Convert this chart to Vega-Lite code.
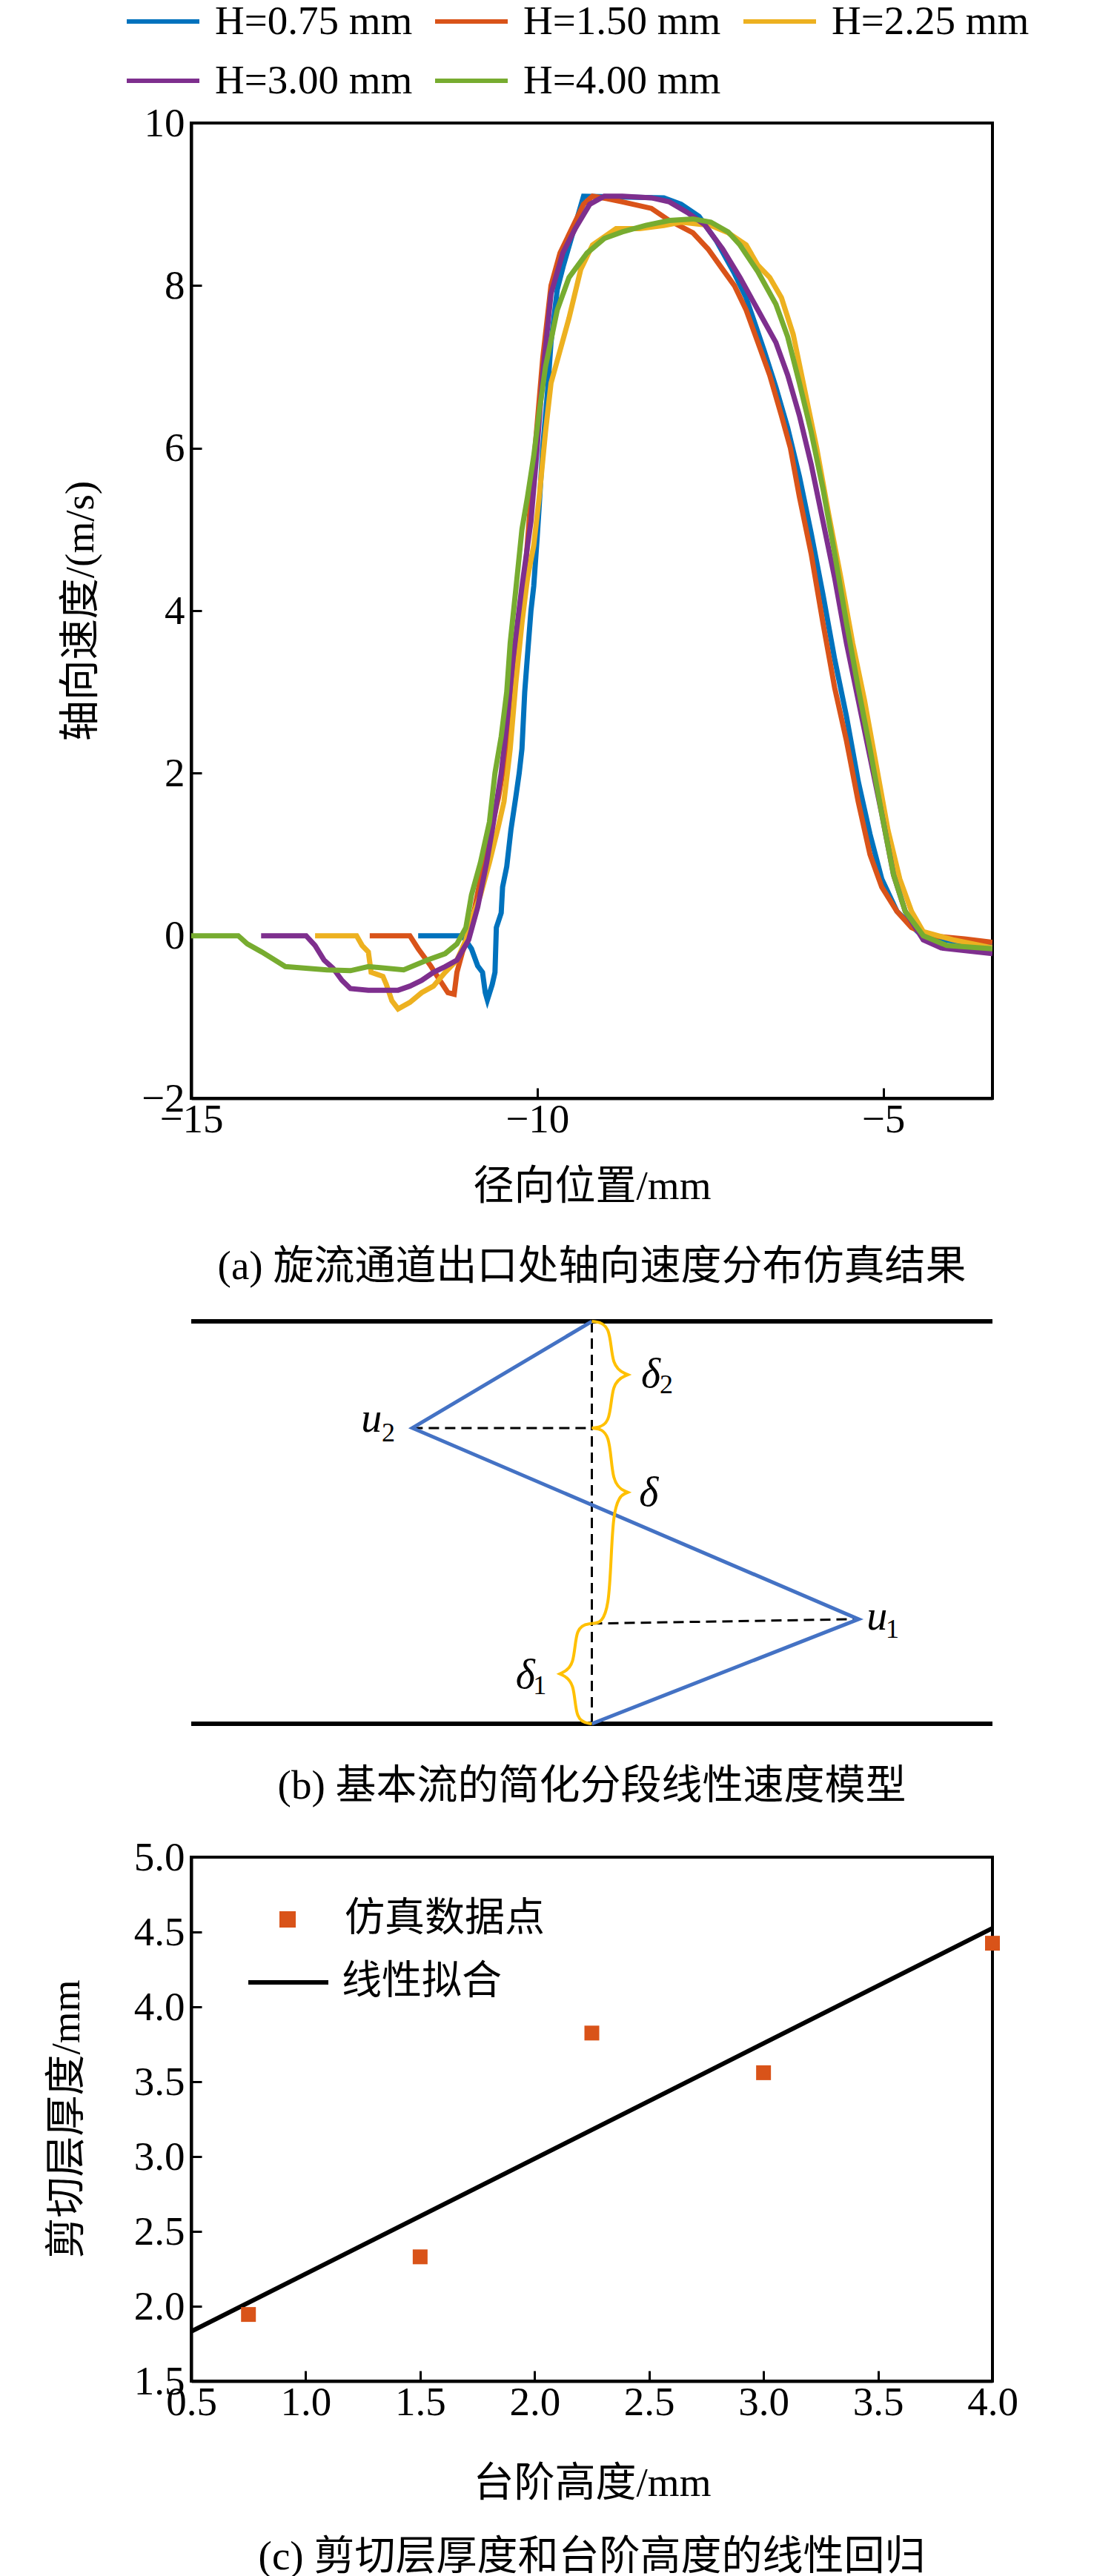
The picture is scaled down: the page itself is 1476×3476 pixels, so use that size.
{
  "$schema": "https://vega.github.io/schema/vega-lite/v6.json",
  "background": "white",
  "padding": {"left": 60, "top": -25, "right": 10, "bottom": 10},
  "autosize": {"type": "pad"},
  "bounds": "flush",
  "spacing": 180,
  "resolve": {
    "scale": {"color": "independent", "shape": "independent"},
    "legend": {"color": "independent", "shape": "independent"}
  },
  "config": {
    "font": "Liberation Serif, Noto Sans CJK SC",
    "view": {"stroke": "black", "strokeWidth": 4},
    "axis": {
      "labelFont": "Liberation Serif, Noto Sans CJK SC",
      "titleFont": "Liberation Serif, Noto Sans CJK SC",
      "labelFontSize": 55,
      "titleFontSize": 55,
      "titleFontWeight": "normal",
      "labelColor": "black",
      "titleColor": "black",
      "domainColor": "black",
      "domainWidth": 4,
      "tickColor": "black",
      "tickWidth": 3,
      "tickSize": -14,
      "labelPadding": 16,
      "grid": false,
      "labelFlush": false,
      "labelOverlap": false
    },
    "axisY": {"labelPadding": 23},
    "legend": {
      "labelColor": "black",
      "labelFont": "Liberation Serif, Noto Sans CJK SC",
      "padding": 0,
      "symbolOpacity": 1,
      "labelLimit": 0
    },
    "title": {
      "font": "Liberation Serif, Noto Sans CJK SC",
      "fontSize": 55,
      "fontWeight": "normal",
      "color": "black",
      "orient": "bottom",
      "anchor": "middle"
    }
  },
  "vconcat": [
    {
      "width": 1081,
      "height": 1316,
      "title": {"text": "(a) 旋流通道出口处轴向速度分布仿真结果", "orient": "bottom", "offset": 55},
      "data": {"values": [
        {"H": "H=0.75 mm", "r": -11.72, "u": 0}, {"H": "H=0.75 mm", "r": -11.08, "u": 0}, {"H": "H=0.75 mm", "r": -10.95, "u": -0.16}, {"H": "H=0.75 mm", "r": -10.86, "u": -0.37}, {"H": "H=0.75 mm", "r": -10.79, "u": -0.45}, {"H": "H=0.75 mm", "r": -10.75, "u": -0.7}, {"H": "H=0.75 mm", "r": -10.72, "u": -0.79}, {"H": "H=0.75 mm", "r": -10.65, "u": -0.6}, {"H": "H=0.75 mm", "r": -10.61, "u": -0.45}, {"H": "H=0.75 mm", "r": -10.59, "u": 0.1}, {"H": "H=0.75 mm", "r": -10.52, "u": 0.28}, {"H": "H=0.75 mm", "r": -10.5, "u": 0.6}, {"H": "H=0.75 mm", "r": -10.44, "u": 0.85}, {"H": "H=0.75 mm", "r": -10.38, "u": 1.3}, {"H": "H=0.75 mm", "r": -10.31, "u": 1.7}, {"H": "H=0.75 mm", "r": -10.26, "u": 2.0}, {"H": "H=0.75 mm", "r": -10.22, "u": 2.3}, {"H": "H=0.75 mm", "r": -10.18, "u": 3.0}, {"H": "H=0.75 mm", "r": -10.14, "u": 3.45}, {"H": "H=0.75 mm", "r": -10.09, "u": 4.0}, {"H": "H=0.75 mm", "r": -10.05, "u": 4.3}, {"H": "H=0.75 mm", "r": -10.0, "u": 4.9}, {"H": "H=0.75 mm", "r": -9.97, "u": 5.3}, {"H": "H=0.75 mm", "r": -9.92, "u": 6.0}, {"H": "H=0.75 mm", "r": -9.85, "u": 6.7}, {"H": "H=0.75 mm", "r": -9.8, "u": 7.3}, {"H": "H=0.75 mm", "r": -9.71, "u": 7.95}, {"H": "H=0.75 mm", "r": -9.62, "u": 8.25}, {"H": "H=0.75 mm", "r": -9.5, "u": 8.6}, {"H": "H=0.75 mm", "r": -9.33, "u": 9.1}, {"H": "H=0.75 mm", "r": -8.17, "u": 9.08}, {"H": "H=0.75 mm", "r": -7.92, "u": 9.0}, {"H": "H=0.75 mm", "r": -7.66, "u": 8.85}, {"H": "H=0.75 mm", "r": -7.41, "u": 8.55}, {"H": "H=0.75 mm", "r": -7.15, "u": 8.15}, {"H": "H=0.75 mm", "r": -6.98, "u": 7.85}, {"H": "H=0.75 mm", "r": -6.72, "u": 7.2}, {"H": "H=0.75 mm", "r": -6.55, "u": 6.75}, {"H": "H=0.75 mm", "r": -6.38, "u": 6.25}, {"H": "H=0.75 mm", "r": -6.21, "u": 5.65}, {"H": "H=0.75 mm", "r": -6.04, "u": 4.95}, {"H": "H=0.75 mm", "r": -5.87, "u": 4.2}, {"H": "H=0.75 mm", "r": -5.7, "u": 3.4}, {"H": "H=0.75 mm", "r": -5.53, "u": 2.7}, {"H": "H=0.75 mm", "r": -5.36, "u": 1.9}, {"H": "H=0.75 mm", "r": -5.19, "u": 1.25}, {"H": "H=0.75 mm", "r": -5.02, "u": 0.7}, {"H": "H=0.75 mm", "r": -4.8, "u": 0.3}, {"H": "H=0.75 mm", "r": -4.5, "u": 0.05}, {"H": "H=0.75 mm", "r": -4.25, "u": -0.04}, {"H": "H=0.75 mm", "r": -3.82, "u": -0.08}, {"H": "H=0.75 mm", "r": -3.42, "u": -0.12},
        {"H": "H=1.50 mm", "r": -12.42, "u": 0}, {"H": "H=1.50 mm", "r": -11.84, "u": 0}, {"H": "H=1.50 mm", "r": -11.72, "u": -0.16}, {"H": "H=1.50 mm", "r": -11.54, "u": -0.37}, {"H": "H=1.50 mm", "r": -11.42, "u": -0.53}, {"H": "H=1.50 mm", "r": -11.29, "u": -0.7}, {"H": "H=1.50 mm", "r": -11.2, "u": -0.72}, {"H": "H=1.50 mm", "r": -11.16, "u": -0.45}, {"H": "H=1.50 mm", "r": -11.08, "u": -0.2}, {"H": "H=1.50 mm", "r": -10.99, "u": 0}, {"H": "H=1.50 mm", "r": -10.9, "u": 0.35}, {"H": "H=1.50 mm", "r": -10.82, "u": 0.7}, {"H": "H=1.50 mm", "r": -10.69, "u": 1.2}, {"H": "H=1.50 mm", "r": -10.56, "u": 1.7}, {"H": "H=1.50 mm", "r": -10.44, "u": 2.3}, {"H": "H=1.50 mm", "r": -10.35, "u": 2.9}, {"H": "H=1.50 mm", "r": -10.26, "u": 3.8}, {"H": "H=1.50 mm", "r": -10.18, "u": 4.4}, {"H": "H=1.50 mm", "r": -10.09, "u": 5.4}, {"H": "H=1.50 mm", "r": -10.01, "u": 6.2}, {"H": "H=1.50 mm", "r": -9.92, "u": 7.1}, {"H": "H=1.50 mm", "r": -9.8, "u": 8.0}, {"H": "H=1.50 mm", "r": -9.67, "u": 8.4}, {"H": "H=1.50 mm", "r": -9.5, "u": 8.7}, {"H": "H=1.50 mm", "r": -9.33, "u": 9.0}, {"H": "H=1.50 mm", "r": -9.2, "u": 9.1}, {"H": "H=1.50 mm", "r": -8.99, "u": 9.07}, {"H": "H=1.50 mm", "r": -8.77, "u": 9.03}, {"H": "H=1.50 mm", "r": -8.35, "u": 8.95}, {"H": "H=1.50 mm", "r": -8.09, "u": 8.8}, {"H": "H=1.50 mm", "r": -7.75, "u": 8.65}, {"H": "H=1.50 mm", "r": -7.53, "u": 8.45}, {"H": "H=1.50 mm", "r": -7.32, "u": 8.2}, {"H": "H=1.50 mm", "r": -7.15, "u": 8.0}, {"H": "H=1.50 mm", "r": -6.98, "u": 7.7}, {"H": "H=1.50 mm", "r": -6.81, "u": 7.3}, {"H": "H=1.50 mm", "r": -6.64, "u": 6.9}, {"H": "H=1.50 mm", "r": -6.47, "u": 6.4}, {"H": "H=1.50 mm", "r": -6.34, "u": 6.0}, {"H": "H=1.50 mm", "r": -6.21, "u": 5.4}, {"H": "H=1.50 mm", "r": -6.04, "u": 4.7}, {"H": "H=1.50 mm", "r": -5.87, "u": 3.85}, {"H": "H=1.50 mm", "r": -5.7, "u": 3.05}, {"H": "H=1.50 mm", "r": -5.53, "u": 2.4}, {"H": "H=1.50 mm", "r": -5.36, "u": 1.65}, {"H": "H=1.50 mm", "r": -5.19, "u": 1.0}, {"H": "H=1.50 mm", "r": -5.02, "u": 0.6}, {"H": "H=1.50 mm", "r": -4.8, "u": 0.3}, {"H": "H=1.50 mm", "r": -4.59, "u": 0.1}, {"H": "H=1.50 mm", "r": -4.33, "u": 0.0}, {"H": "H=1.50 mm", "r": -3.82, "u": -0.04}, {"H": "H=1.50 mm", "r": -3.42, "u": -0.08},
        {"H": "H=2.25 mm", "r": -13.21, "u": 0}, {"H": "H=2.25 mm", "r": -12.61, "u": 0}, {"H": "H=2.25 mm", "r": -12.53, "u": -0.12}, {"H": "H=2.25 mm", "r": -12.44, "u": -0.2}, {"H": "H=2.25 mm", "r": -12.4, "u": -0.45}, {"H": "H=2.25 mm", "r": -12.23, "u": -0.5}, {"H": "H=2.25 mm", "r": -12.18, "u": -0.6}, {"H": "H=2.25 mm", "r": -12.1, "u": -0.8}, {"H": "H=2.25 mm", "r": -12.01, "u": -0.9}, {"H": "H=2.25 mm", "r": -11.84, "u": -0.82}, {"H": "H=2.25 mm", "r": -11.67, "u": -0.7}, {"H": "H=2.25 mm", "r": -11.5, "u": -0.62}, {"H": "H=2.25 mm", "r": -11.33, "u": -0.45}, {"H": "H=2.25 mm", "r": -11.16, "u": -0.3}, {"H": "H=2.25 mm", "r": -11.03, "u": -0.05}, {"H": "H=2.25 mm", "r": -10.95, "u": 0.2}, {"H": "H=2.25 mm", "r": -10.82, "u": 0.5}, {"H": "H=2.25 mm", "r": -10.69, "u": 0.9}, {"H": "H=2.25 mm", "r": -10.56, "u": 1.35}, {"H": "H=2.25 mm", "r": -10.48, "u": 1.65}, {"H": "H=2.25 mm", "r": -10.39, "u": 2.3}, {"H": "H=2.25 mm", "r": -10.31, "u": 3.1}, {"H": "H=2.25 mm", "r": -10.22, "u": 3.85}, {"H": "H=2.25 mm", "r": -10.14, "u": 4.4}, {"H": "H=2.25 mm", "r": -10.05, "u": 4.8}, {"H": "H=2.25 mm", "r": -9.97, "u": 5.4}, {"H": "H=2.25 mm", "r": -9.88, "u": 6.2}, {"H": "H=2.25 mm", "r": -9.8, "u": 6.8}, {"H": "H=2.25 mm", "r": -9.67, "u": 7.2}, {"H": "H=2.25 mm", "r": -9.54, "u": 7.6}, {"H": "H=2.25 mm", "r": -9.37, "u": 8.2}, {"H": "H=2.25 mm", "r": -9.2, "u": 8.5}, {"H": "H=2.25 mm", "r": -8.86, "u": 8.7}, {"H": "H=2.25 mm", "r": -8.52, "u": 8.7}, {"H": "H=2.25 mm", "r": -8.17, "u": 8.74}, {"H": "H=2.25 mm", "r": -7.92, "u": 8.78}, {"H": "H=2.25 mm", "r": -7.49, "u": 8.74}, {"H": "H=2.25 mm", "r": -7.24, "u": 8.65}, {"H": "H=2.25 mm", "r": -6.98, "u": 8.5}, {"H": "H=2.25 mm", "r": -6.81, "u": 8.25}, {"H": "H=2.25 mm", "r": -6.64, "u": 8.1}, {"H": "H=2.25 mm", "r": -6.47, "u": 7.85}, {"H": "H=2.25 mm", "r": -6.3, "u": 7.4}, {"H": "H=2.25 mm", "r": -6.13, "u": 6.7}, {"H": "H=2.25 mm", "r": -5.96, "u": 6.0}, {"H": "H=2.25 mm", "r": -5.79, "u": 5.2}, {"H": "H=2.25 mm", "r": -5.61, "u": 4.4}, {"H": "H=2.25 mm", "r": -5.44, "u": 3.6}, {"H": "H=2.25 mm", "r": -5.27, "u": 2.9}, {"H": "H=2.25 mm", "r": -5.1, "u": 2.1}, {"H": "H=2.25 mm", "r": -4.93, "u": 1.3}, {"H": "H=2.25 mm", "r": -4.76, "u": 0.7}, {"H": "H=2.25 mm", "r": -4.59, "u": 0.3}, {"H": "H=2.25 mm", "r": -4.42, "u": 0.05}, {"H": "H=2.25 mm", "r": -3.99, "u": -0.05}, {"H": "H=2.25 mm", "r": -3.42, "u": -0.15},
        {"H": "H=3.00 mm", "r": -13.99, "u": 0}, {"H": "H=3.00 mm", "r": -13.34, "u": 0}, {"H": "H=3.00 mm", "r": -13.21, "u": -0.12}, {"H": "H=3.00 mm", "r": -13.08, "u": -0.3}, {"H": "H=3.00 mm", "r": -12.95, "u": -0.4}, {"H": "H=3.00 mm", "r": -12.82, "u": -0.55}, {"H": "H=3.00 mm", "r": -12.7, "u": -0.65}, {"H": "H=3.00 mm", "r": -12.44, "u": -0.67}, {"H": "H=3.00 mm", "r": -12.01, "u": -0.67}, {"H": "H=3.00 mm", "r": -11.84, "u": -0.62}, {"H": "H=3.00 mm", "r": -11.67, "u": -0.55}, {"H": "H=3.00 mm", "r": -11.5, "u": -0.45}, {"H": "H=3.00 mm", "r": -11.33, "u": -0.38}, {"H": "H=3.00 mm", "r": -11.16, "u": -0.3}, {"H": "H=3.00 mm", "r": -10.99, "u": -0.05}, {"H": "H=3.00 mm", "r": -10.86, "u": 0.35}, {"H": "H=3.00 mm", "r": -10.73, "u": 0.9}, {"H": "H=3.00 mm", "r": -10.65, "u": 1.3}, {"H": "H=3.00 mm", "r": -10.52, "u": 2.0}, {"H": "H=3.00 mm", "r": -10.44, "u": 2.6}, {"H": "H=3.00 mm", "r": -10.35, "u": 3.4}, {"H": "H=3.00 mm", "r": -10.22, "u": 4.3}, {"H": "H=3.00 mm", "r": -10.09, "u": 5.1}, {"H": "H=3.00 mm", "r": -10.01, "u": 5.9}, {"H": "H=3.00 mm", "r": -9.92, "u": 6.9}, {"H": "H=3.00 mm", "r": -9.8, "u": 7.9}, {"H": "H=3.00 mm", "r": -9.63, "u": 8.4}, {"H": "H=3.00 mm", "r": -9.45, "u": 8.7}, {"H": "H=3.00 mm", "r": -9.24, "u": 9.0}, {"H": "H=3.00 mm", "r": -9.03, "u": 9.1}, {"H": "H=3.00 mm", "r": -8.77, "u": 9.1}, {"H": "H=3.00 mm", "r": -8.35, "u": 9.08}, {"H": "H=3.00 mm", "r": -8.09, "u": 9.03}, {"H": "H=3.00 mm", "r": -7.83, "u": 8.9}, {"H": "H=3.00 mm", "r": -7.58, "u": 8.75}, {"H": "H=3.00 mm", "r": -7.32, "u": 8.45}, {"H": "H=3.00 mm", "r": -7.07, "u": 8.1}, {"H": "H=3.00 mm", "r": -6.81, "u": 7.7}, {"H": "H=3.00 mm", "r": -6.55, "u": 7.3}, {"H": "H=3.00 mm", "r": -6.38, "u": 6.9}, {"H": "H=3.00 mm", "r": -6.21, "u": 6.4}, {"H": "H=3.00 mm", "r": -6.04, "u": 5.8}, {"H": "H=3.00 mm", "r": -5.87, "u": 5.1}, {"H": "H=3.00 mm", "r": -5.7, "u": 4.4}, {"H": "H=3.00 mm", "r": -5.53, "u": 3.6}, {"H": "H=3.00 mm", "r": -5.36, "u": 2.9}, {"H": "H=3.00 mm", "r": -5.19, "u": 2.2}, {"H": "H=3.00 mm", "r": -5.02, "u": 1.5}, {"H": "H=3.00 mm", "r": -4.85, "u": 0.75}, {"H": "H=3.00 mm", "r": -4.68, "u": 0.3}, {"H": "H=3.00 mm", "r": -4.42, "u": -0.05}, {"H": "H=3.00 mm", "r": -4.16, "u": -0.15}, {"H": "H=3.00 mm", "r": -3.42, "u": -0.22},
        {"H": "H=4.00 mm", "r": -15, "u": 0}, {"H": "H=4.00 mm", "r": -14.32, "u": 0}, {"H": "H=4.00 mm", "r": -14.19, "u": -0.1}, {"H": "H=4.00 mm", "r": -13.98, "u": -0.2}, {"H": "H=4.00 mm", "r": -13.64, "u": -0.38}, {"H": "H=4.00 mm", "r": -13.04, "u": -0.42}, {"H": "H=4.00 mm", "r": -12.7, "u": -0.43}, {"H": "H=4.00 mm", "r": -12.44, "u": -0.38}, {"H": "H=4.00 mm", "r": -11.93, "u": -0.42}, {"H": "H=4.00 mm", "r": -11.59, "u": -0.3}, {"H": "H=4.00 mm", "r": -11.33, "u": -0.22}, {"H": "H=4.00 mm", "r": -11.16, "u": -0.1}, {"H": "H=4.00 mm", "r": -11.03, "u": 0.1}, {"H": "H=4.00 mm", "r": -10.95, "u": 0.5}, {"H": "H=4.00 mm", "r": -10.82, "u": 0.9}, {"H": "H=4.00 mm", "r": -10.69, "u": 1.4}, {"H": "H=4.00 mm", "r": -10.61, "u": 2.0}, {"H": "H=4.00 mm", "r": -10.52, "u": 2.45}, {"H": "H=4.00 mm", "r": -10.44, "u": 3.0}, {"H": "H=4.00 mm", "r": -10.39, "u": 3.6}, {"H": "H=4.00 mm", "r": -10.31, "u": 4.25}, {"H": "H=4.00 mm", "r": -10.22, "u": 5.0}, {"H": "H=4.00 mm", "r": -10.14, "u": 5.4}, {"H": "H=4.00 mm", "r": -10.05, "u": 5.9}, {"H": "H=4.00 mm", "r": -9.97, "u": 6.45}, {"H": "H=4.00 mm", "r": -9.88, "u": 7.0}, {"H": "H=4.00 mm", "r": -9.71, "u": 7.7}, {"H": "H=4.00 mm", "r": -9.54, "u": 8.1}, {"H": "H=4.00 mm", "r": -9.28, "u": 8.4}, {"H": "H=4.00 mm", "r": -9.03, "u": 8.58}, {"H": "H=4.00 mm", "r": -8.77, "u": 8.66}, {"H": "H=4.00 mm", "r": -8.43, "u": 8.74}, {"H": "H=4.00 mm", "r": -8.09, "u": 8.8}, {"H": "H=4.00 mm", "r": -7.75, "u": 8.82}, {"H": "H=4.00 mm", "r": -7.49, "u": 8.78}, {"H": "H=4.00 mm", "r": -7.24, "u": 8.66}, {"H": "H=4.00 mm", "r": -7.07, "u": 8.5}, {"H": "H=4.00 mm", "r": -6.81, "u": 8.17}, {"H": "H=4.00 mm", "r": -6.55, "u": 7.77}, {"H": "H=4.00 mm", "r": -6.38, "u": 7.37}, {"H": "H=4.00 mm", "r": -6.21, "u": 6.8}, {"H": "H=4.00 mm", "r": -6.04, "u": 6.2}, {"H": "H=4.00 mm", "r": -5.87, "u": 5.5}, {"H": "H=4.00 mm", "r": -5.7, "u": 4.7}, {"H": "H=4.00 mm", "r": -5.53, "u": 3.85}, {"H": "H=4.00 mm", "r": -5.36, "u": 3.05}, {"H": "H=4.00 mm", "r": -5.19, "u": 2.3}, {"H": "H=4.00 mm", "r": -5.02, "u": 1.5}, {"H": "H=4.00 mm", "r": -4.85, "u": 0.75}, {"H": "H=4.00 mm", "r": -4.68, "u": 0.3}, {"H": "H=4.00 mm", "r": -4.42, "u": 0.0}, {"H": "H=4.00 mm", "r": -4.08, "u": -0.12}, {"H": "H=4.00 mm", "r": -3.42, "u": -0.16}
      ]},
      "mark": {"type": "line", "strokeWidth": 7, "clip": true},
      "encoding": {
        "x": {"field": "r", "type": "quantitative", "scale": {"domain": [-15, -3.42], "nice": false, "zero": false},
              "axis": {"values": [-15, -10, -5], "title": "径向位置/mm", "titleY": 118, "titleBaseline": "middle"}},
        "y": {"field": "u", "type": "quantitative", "scale": {"domain": [-2, 10], "nice": false, "zero": false},
              "axis": {"values": [-2, 0, 2, 4, 6, 8, 10], "title": "轴向速度/(m/s)", "titleX": -150, "titleY": 658, "titleBaseline": "middle", "titleAngle": -90}},
        "color": {"field": "H", "type": "nominal",
                  "scale": {"domain": ["H=0.75 mm", "H=1.50 mm", "H=2.25 mm", "H=3.00 mm", "H=4.00 mm"], "range": ["#0072BD", "#D95319", "#EDB120", "#7E2F8E", "#77AC30"]},
                  "legend": {"orient": "none", "legendX": -90, "legendY": -189, "direction": "horizontal", "columns": 3, "title": null,
                             "symbolType": "stroke", "symbolSize": 9604, "symbolStrokeWidth": 6, "labelFontSize": 55, "labelOffset": 18,
                             "columnPadding": 18, "rowPadding": -70, "labelFont": "Liberation Serif", "labelLimit": 0}}
      }
    },
    {
      "width": 1081,
      "height": 664,
      "view": {"stroke": null},
      "title": {"text": "(b) 基本流的简化分段线性速度模型", "orient": "bottom", "offset": 48},
      "layer": [
        {
          "data": {"values": [{"x0": 0, "x1": 100, "y": 100}, {"x0": 0, "x1": 100, "y": 0}]},
          "mark": {"type": "rule", "color": "black", "strokeWidth": 6},
          "encoding": {
            "x": {"field": "x0", "type": "quantitative", "scale": {"domain": [0, 100], "nice": false, "zero": false}, "axis": null},
            "x2": {"field": "x1"},
            "y": {"field": "y", "type": "quantitative", "scale": {"domain": [0, 122.3], "nice": false, "zero": false}, "axis": null}
          }
        },
        {
          "data": {"values": [{"x": 50, "y": 0, "xe": 50, "ye": 100}, {"x": 27.6, "y": 73.5, "xe": 50, "ye": 73.5}, {"x": 50, "y": 24.9, "xe": 83.3, "ye": 26}]},
          "mark": {"type": "rule", "color": "black", "strokeWidth": 3, "strokeDash": [14, 8]},
          "encoding": {
            "x": {"field": "x", "type": "quantitative", "axis": null},
            "x2": {"field": "xe"},
            "y": {"field": "y", "type": "quantitative", "axis": null},
            "y2": {"field": "ye"}
          }
        },
        {
          "data": {"values": [{"o": 1, "x": 50, "y": 100}, {"o": 2, "x": 27.6, "y": 73.5}, {"o": 3, "x": 83.3, "y": 26}, {"o": 4, "x": 50, "y": 0}]},
          "mark": {"type": "line", "color": "#4472C4", "strokeWidth": 5},
          "encoding": {
            "x": {"field": "x", "type": "quantitative", "axis": null},
            "y": {"field": "y", "type": "quantitative", "axis": null},
            "order": {"field": "o", "type": "quantitative"}
          }
        },
        {
          "data": {"values": [
            {"b": "d2", "o": 1, "x": 50, "y": 100}, {"b": "d2", "o": 2, "x": 52.4, "y": 99.5}, {"b": "d2", "o": 3, "x": 52.4, "y": 88.5}, {"b": "d2", "o": 4, "x": 54.5, "y": 86.75}, {"b": "d2", "o": 5, "x": 54.5, "y": 86.75}, {"b": "d2", "o": 6, "x": 54.5, "y": 86.75}, {"b": "d2", "o": 7, "x": 52.4, "y": 85}, {"b": "d2", "o": 8, "x": 52.4, "y": 74}, {"b": "d2", "o": 9, "x": 50, "y": 73.5},
            {"b": "d", "o": 1, "x": 50, "y": 73.5}, {"b": "d", "o": 2, "x": 52.4, "y": 73}, {"b": "d", "o": 3, "x": 52.4, "y": 59.3}, {"b": "d", "o": 4, "x": 54.5, "y": 57.5}, {"b": "d", "o": 5, "x": 54.5, "y": 57.5}, {"b": "d", "o": 6, "x": 54.5, "y": 57.5}, {"b": "d", "o": 7, "x": 52.4, "y": 55.7}, {"b": "d", "o": 8, "x": 52.4, "y": 25.4}, {"b": "d", "o": 9, "x": 50, "y": 24.9},
            {"b": "d1", "o": 1, "x": 50, "y": 24.9}, {"b": "d1", "o": 2, "x": 47.9, "y": 24.4}, {"b": "d1", "o": 3, "x": 47.9, "y": 14.2}, {"b": "d1", "o": 4, "x": 46, "y": 12.4}, {"b": "d1", "o": 5, "x": 46, "y": 12.4}, {"b": "d1", "o": 6, "x": 46, "y": 12.4}, {"b": "d1", "o": 7, "x": 47.9, "y": 10.6}, {"b": "d1", "o": 8, "x": 47.9, "y": 0.5}, {"b": "d1", "o": 9, "x": 50, "y": 0}
          ]},
          "mark": {"type": "line", "color": "#FFC000", "strokeWidth": 4, "interpolate": "basis"},
          "encoding": {
            "x": {"field": "x", "type": "quantitative", "axis": null},
            "y": {"field": "y", "type": "quantitative", "axis": null},
            "detail": {"field": "b", "type": "nominal"},
            "order": {"field": "o", "type": "quantitative"}
          }
        },
        {
          "data": {"values": [{"t": "δ", "x": 57.35, "y": 83.6}, {"t": "δ", "x": 57.1, "y": 54.1}, {"t": "δ", "x": 41.7, "y": 8.8}, {"t": "u", "x": 22.5, "y": 72.6}, {"t": "u", "x": 85.6, "y": 23.4}]},
          "mark": {"type": "text", "font": "Liberation Serif", "fontStyle": "italic", "fontSize": 56, "align": "center", "baseline": "alphabetic", "color": "black"},
          "encoding": {
            "x": {"field": "x", "type": "quantitative", "axis": null},
            "y": {"field": "y", "type": "quantitative", "axis": null},
            "text": {"field": "t"}
          }
        },
        {
          "data": {"values": [{"t": "2", "x": 59.3, "y": 82.1}, {"t": "1", "x": 43.5, "y": 7.4}, {"t": "2", "x": 24.6, "y": 70.2}, {"t": "1", "x": 87.5, "y": 21.4}]},
          "mark": {"type": "text", "font": "Liberation Serif", "fontSize": 36, "align": "center", "baseline": "alphabetic", "color": "black"},
          "encoding": {
            "x": {"field": "x", "type": "quantitative", "axis": null},
            "y": {"field": "y", "type": "quantitative", "axis": null},
            "text": {"field": "t"}
          }
        }
      ]
    },
    {
      "width": 1081,
      "height": 707,
      "title": {"text": "(c) 剪切层厚度和台阶高度的线性回归", "orient": "bottom", "offset": 46},
      "data": {"values": [
        {"h": 0.75, "thk": 1.945},
        {"h": 1.5, "thk": 2.33},
        {"h": 2.25, "thk": 3.825},
        {"h": 3.0, "thk": 3.56},
        {"h": 4.0, "thk": 4.425}
      ]},
      "encoding": {
        "x": {"field": "h", "type": "quantitative", "scale": {"domain": [0.5, 4.0], "nice": false, "zero": false},
              "axis": {"values": [0.5, 1.0, 1.5, 2.0, 2.5, 3.0, 3.5, 4.0], "format": ".1f", "title": "台阶高度/mm", "titleY": 137, "titleBaseline": "middle"}},
        "y": {"field": "thk", "type": "quantitative", "scale": {"domain": [1.5, 5.0], "nice": false, "zero": false},
              "axis": {"values": [1.5, 2.0, 2.5, 3.0, 3.5, 4.0, 4.5, 5.0], "format": ".1f", "title": "剪切层厚度/mm", "titleX": -169, "titleY": 353, "titleBaseline": "middle", "titleAngle": -90}}
      },
      "layer": [
        {
          "transform": [{"regression": "thk", "on": "h", "extent": [0.5, 4.0]}],
          "mark": {"type": "line", "strokeWidth": 6, "color": "black"},
          "encoding": {
            "color": {"datum": "线性拟合", "type": "nominal", "scale": {"range": ["black"]},
                      "legend": {"orient": "none", "legendX": 74, "legendY": 112, "title": null, "symbolType": "stroke", "symbolSize": 11664, "symbolStrokeWidth": 6, "labelFontSize": 54, "labelOffset": 15, "labelLimit": 0}}
          }
        },
        {
          "mark": {"type": "point", "filled": true, "size": 400, "color": "#D95319", "opacity": 1},
          "encoding": {
            "shape": {"datum": "仿真数据点", "type": "nominal", "scale": {"range": ["square"]},
                      "legend": {"orient": "none", "legendX": 103, "legendY": 57, "title": null, "symbolSize": 484, "symbolFillColor": "#D95319", "symbolStrokeColor": "#D95319", "symbolStrokeWidth": 0, "labelFontSize": 54, "labelOffset": 50, "labelLimit": 0}}
          }
        }
      ]
    }
  ]
}
